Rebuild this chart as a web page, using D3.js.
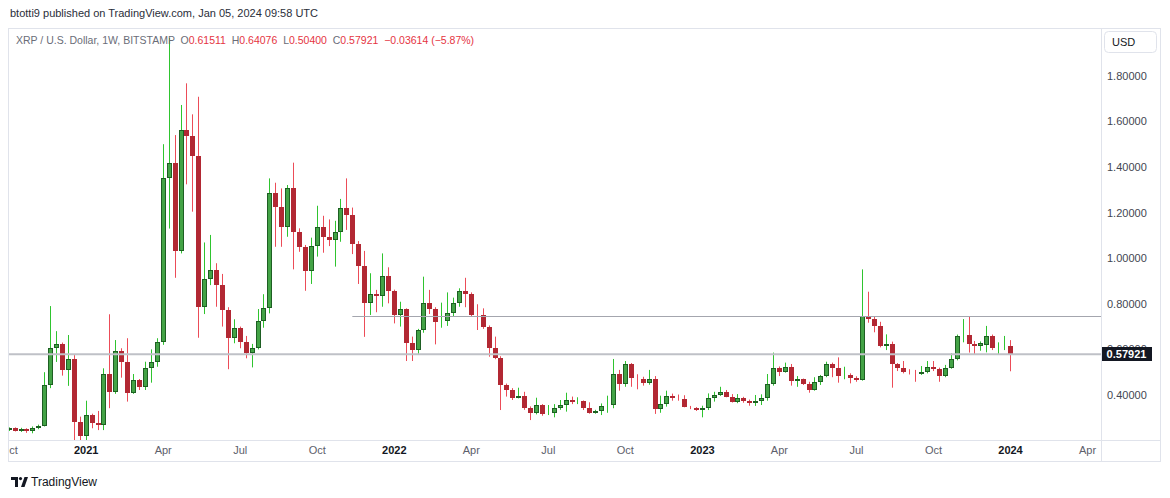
<!DOCTYPE html>
<html>
<head>
<meta charset="utf-8">
<title>XRP / U.S. Dollar, 1W</title>
<script src="https://d3js.org/d3.v7.min.js"></script>
<style>
  body { margin: 0; background: #fff; }
  text { font-family: "Liberation Sans", Arial, sans-serif; }
</style>
</head>
<body>
<svg id="chart" width="1170" height="498"></svg>
<script>
// weekly bars, first bar = week of 2020-10-05, last = week of 2024-01-01
var firstWeek = "2020-10-05", lastWeek = "2024-01-01";

var opens = [
  0.248,0.254,0.243,0.250,0.240,0.254,0.266,0.444,0.605,0.622,
  0.510,0.557,0.280,0.220,0.312,0.276,0.270,0.492,0.414,0.593,
  0.543,0.410,0.466,0.436,0.517,0.546,0.634,1.350,1.416,1.033,
  1.562,1.536,1.448,0.787,0.907,0.948,0.882,0.773,0.649,0.693,
  0.631,0.586,0.605,0.726,0.780,1.287,1.223,1.138,1.306,1.117,
  1.048,0.944,1.053,1.138,1.092,1.080,1.113,1.222,1.190,1.061,
  0.967,0.802,0.842,0.832,0.922,0.858,0.751,0.776,0.627,0.597,
  0.685,0.805,0.777,0.719,0.724,0.761,0.805,0.858,0.842,0.756,
  0.749,0.697,0.608,0.564,0.444,0.422,0.388,0.396,0.342,0.322,
  0.356,0.315,0.322,0.342,0.356,0.378,0.368,0.373,0.342,0.320,
  0.330,0.353,0.357,0.492,0.448,0.535,0.476,0.469,0.454,0.469,
  0.339,0.361,0.397,0.388,0.381,0.349,0.343,0.335,0.344,0.385,
  0.400,0.412,0.393,0.371,0.385,0.375,0.364,0.374,0.385,0.448,
  0.517,0.503,0.521,0.463,0.469,0.450,0.422,0.455,0.483,0.536,
  0.517,0.483,0.487,0.476,0.466,0.746,0.733,0.704,0.616,0.624,
  0.536,0.520,0.502,0.495,0.490,0.502,0.524,0.514,0.483,0.520,
  0.556,0.660,0.662,0.624,0.615,0.620,0.660,0.607,0.612,0.61511
];
var highs = [
  0.258,0.258,0.256,0.254,0.262,0.270,0.500,0.790,0.680,0.630,
  0.663,0.575,0.305,0.375,0.318,0.330,0.517,0.754,0.641,0.605,
  0.649,0.492,0.470,0.546,0.600,0.649,1.500,1.966,1.540,1.672,
  1.767,1.631,1.708,1.069,1.102,0.978,0.931,0.785,0.732,0.700,
  0.659,0.624,0.777,0.842,1.350,1.331,1.306,1.321,1.419,1.131,
  1.058,1.090,1.230,1.186,1.170,1.164,1.260,1.350,1.222,1.075,
  1.032,0.934,0.861,1.021,0.960,0.862,0.809,0.780,0.656,0.690,
  0.919,0.861,0.785,0.805,0.850,0.827,0.868,0.914,0.850,0.798,
  0.780,0.705,0.656,0.570,0.450,0.430,0.432,0.414,0.350,0.388,
  0.360,0.356,0.360,0.378,0.410,0.393,0.390,0.376,0.368,0.335,
  0.363,0.397,0.558,0.510,0.549,0.540,0.491,0.480,0.510,0.483,
  0.397,0.419,0.406,0.402,0.399,0.352,0.347,0.353,0.407,0.414,
  0.436,0.422,0.404,0.404,0.392,0.380,0.400,0.403,0.492,0.586,
  0.525,0.542,0.536,0.483,0.472,0.458,0.478,0.488,0.546,0.542,
  0.565,0.524,0.495,0.482,0.951,0.853,0.743,0.721,0.666,0.634,
  0.540,0.549,0.513,0.510,0.527,0.549,0.549,0.520,0.532,0.583,
  0.665,0.733,0.746,0.637,0.635,0.703,0.665,0.631,0.659,0.64076
];
var lows = [
  0.242,0.240,0.238,0.234,0.232,0.250,0.262,0.430,0.545,0.485,
  0.440,0.200,0.170,0.200,0.254,0.246,0.246,0.342,0.405,0.476,
  0.371,0.405,0.422,0.422,0.454,0.524,0.620,1.130,0.914,1.021,
  1.324,1.204,0.651,0.755,0.882,0.787,0.700,0.513,0.627,0.605,
  0.561,0.521,0.600,0.695,0.758,1.050,1.050,1.094,0.951,1.028,
  0.857,0.887,1.007,1.024,1.053,0.963,1.072,1.124,1.018,0.887,
  0.655,0.751,0.763,0.787,0.802,0.714,0.700,0.549,0.549,0.580,
  0.673,0.755,0.622,0.695,0.703,0.743,0.787,0.785,0.745,0.685,
  0.690,0.568,0.557,0.334,0.393,0.378,0.385,0.335,0.290,0.315,
  0.309,0.312,0.302,0.335,0.327,0.360,0.360,0.334,0.318,0.318,
  0.312,0.322,0.342,0.419,0.436,0.436,0.425,0.441,0.445,0.317,
  0.322,0.349,0.375,0.375,0.346,0.338,0.330,0.302,0.334,0.371,
  0.396,0.390,0.367,0.364,0.366,0.353,0.352,0.356,0.375,0.441,
  0.483,0.498,0.441,0.436,0.444,0.410,0.419,0.444,0.478,0.478,
  0.454,0.469,0.451,0.458,0.463,0.717,0.675,0.609,0.597,0.432,
  0.505,0.495,0.490,0.458,0.488,0.495,0.505,0.458,0.478,0.515,
  0.552,0.631,0.586,0.578,0.594,0.587,0.597,0.578,0.597,0.50400
];
var closes = [
  0.254,0.243,0.250,0.240,0.254,0.266,0.444,0.605,0.622,0.510,
  0.557,0.280,0.220,0.312,0.276,0.270,0.492,0.414,0.593,0.543,
  0.410,0.466,0.436,0.517,0.546,0.634,1.350,1.416,1.033,1.562,
  1.536,1.448,0.787,0.907,0.948,0.882,0.773,0.649,0.693,0.631,
  0.586,0.605,0.726,0.780,1.287,1.223,1.138,1.306,1.117,1.048,
  0.944,1.053,1.138,1.092,1.080,1.113,1.222,1.190,1.061,0.967,
  0.802,0.842,0.832,0.922,0.858,0.751,0.776,0.627,0.597,0.685,
  0.805,0.777,0.719,0.724,0.761,0.805,0.858,0.842,0.751,0.749,
  0.697,0.608,0.564,0.444,0.422,0.388,0.396,0.342,0.322,0.356,
  0.315,0.322,0.342,0.356,0.378,0.368,0.373,0.342,0.320,0.330,
  0.353,0.357,0.492,0.448,0.535,0.476,0.469,0.454,0.469,0.339,
  0.361,0.397,0.388,0.381,0.349,0.343,0.335,0.344,0.385,0.400,
  0.412,0.393,0.371,0.385,0.375,0.364,0.374,0.385,0.448,0.517,
  0.503,0.521,0.463,0.469,0.450,0.422,0.455,0.483,0.536,0.517,
  0.483,0.487,0.476,0.466,0.746,0.733,0.704,0.616,0.624,0.536,
  0.520,0.502,0.495,0.490,0.502,0.524,0.514,0.483,0.520,0.556,
  0.660,0.662,0.624,0.615,0.627,0.660,0.607,0.612,0.61535,0.57921
];

var priceTicks = [0.4, 0.6, 0.8, 1.0, 1.2, 1.4, 1.6, 1.8];
var rayLevel = 0.748, rayStart = "2021-11-15";   // drawn horizontal ray
var headerText = "btotti9 published on TradingView.com, Jan 05, 2024 09:58 UTC";
var symbolText = "XRP / U.S. Dollar, 1W, BITSTAMP";

var svg = d3.select("#chart");

// frame (note: "top" is a window global, so not used as a name)
var plotLeft = 8, plotTop = 28, plotRight = 1101, frameRight = 1161, axisTop = 440, frameBottom = 462;
var barStep = 5.925, lastX = 1010;

var weeks = d3.utcMonday.range(new Date(firstWeek), d3.utcDay.offset(new Date(lastWeek), 1));
var bars = weeks.map(function (d, i) {
  return { date: d, o: opens[i], h: highs[i], l: lows[i], c: closes[i] };
});

var lastDate = weeks[weeks.length - 1];
var wk = 7 * 864e5;
var x = d3.scaleUtc()
  .domain([new Date(+lastDate - (lastX - plotLeft) / barStep * wk), new Date(+lastDate + (plotRight - lastX) / barStep * wk)])
  .range([plotLeft, plotRight]);
var y = d3.scaleLinear().domain([0.2026, 2.0096]).range([axisTop, plotTop]);

svg.append("rect").attr("width", 1170).attr("height", 498).attr("fill", "#fff");

var defs = svg.append("defs");
defs.append("clipPath").attr("id", "plotClip").append("rect")
  .attr("x", plotLeft).attr("y", plotTop).attr("width", plotRight - plotLeft).attr("height", axisTop - plotTop);
defs.append("clipPath").attr("id", "timeClip").append("rect")
  .attr("x", plotLeft).attr("y", axisTop).attr("width", plotRight - plotLeft).attr("height", frameBottom - axisTop);

// header
svg.append("text").attr("x", 10).attr("y", 17).attr("font-size", 11).attr("fill", "#2a2e39").text(headerText);

// candles
var plot = svg.append("g").attr("clip-path", "url(#plotClip)");
var up = { body: "#43a346", edge: "#1e5f23", wick: "#2fc42f" };
var dn = { body: "#b22833", edge: "#b22833", wick: "#ec4c58" };

var candle = plot.selectAll("g.bar").data(bars).enter().append("g").attr("class", "bar");
candle.append("line")
  .attr("x1", function (d) { return Math.round(x(d.date)) + 0.5; })
  .attr("x2", function (d) { return Math.round(x(d.date)) + 0.5; })
  .attr("y1", function (d) { return y(d.h); })
  .attr("y2", function (d) { return y(d.l); })
  .attr("stroke", function (d) { return d.c >= d.o ? up.wick : dn.wick; })
  .attr("stroke-width", 1);
candle.append("rect")
  .attr("x", function (d) { return Math.round(x(d.date)) - 1.5; })
  .attr("width", 4)
  .attr("y", function (d) { return Math.round(y(Math.max(d.o, d.c))) + 0.5; })
  .attr("height", function (d) {
    return Math.max(Math.round(y(Math.min(d.o, d.c))) - Math.round(y(Math.max(d.o, d.c))) - 1, 0);
  })
  .attr("fill", function (d) { return d.c >= d.o ? up.body : dn.body; })
  .attr("stroke", function (d) { return d.c >= d.o ? up.edge : dn.edge; })
  .attr("stroke-width", 1);

// horizontal ray and last price line
var lastClose = closes[closes.length - 1];
plot.append("line")
  .attr("x1", x(new Date(rayStart))).attr("x2", plotRight)
  .attr("y1", Math.round(y(rayLevel)) + 0.5).attr("y2", Math.round(y(rayLevel)) + 0.5)
  .attr("stroke", "#a4a6ae").attr("stroke-width", 1);
plot.append("line")
  .attr("x1", plotLeft).attr("x2", plotRight)
  .attr("y1", y(lastClose)).attr("y2", y(lastClose))
  .attr("stroke", "#bfc1c7").attr("stroke-width", 2);

// legend
var red = "#e5343f", grey = "#6a6d78";
var last = bars[bars.length - 1], prevClose = closes[closes.length - 2];
var chg = last.c - prevClose;
var fmt = d3.format(".5f");
var minus = function (s) { return s.replace("-", "\u2212"); };
var legend = svg.append("text").attr("x", 16).attr("y", 44).attr("font-size", 10.5).attr("xml:space", "preserve");
legend.append("tspan").attr("fill", grey).text(symbolText + "  ");
[["O", last.o], ["H", last.h], ["L", last.l], ["C", last.c]].forEach(function (p) {
  legend.append("tspan").attr("fill", grey).text(p[0]);
  legend.append("tspan").attr("fill", red).text(fmt(p[1]) + "  ");
});
legend.append("tspan").attr("fill", red)
  .text(minus(fmt(chg)) + " (" + minus(d3.format(".2f")(chg / prevClose * 100)) + "%)");

// price axis
var pa = svg.append("g");
pa.selectAll("text.tick").data(priceTicks).enter().append("text")
  .attr("x", 1107).attr("y", function (d) { return y(d) + 4; })
  .attr("font-size", 11).attr("fill", "#434651")
  .text(function (d) { return fmt(d); });
pa.append("rect").attr("x", 1104.5).attr("y", 31.5).attr("width", 52).attr("height", 21).attr("rx", 4)
  .attr("fill", "#fff").attr("stroke", "#e0e3eb");
pa.append("text").attr("x", 1112).attr("y", 46).attr("font-size", 11).attr("fill", "#131722").text("USD");
var ly = Math.round(y(lastClose));
pa.append("rect").attr("x", 1101).attr("y", ly - 7).attr("width", 51).attr("height", 14)
  .attr("fill", "#131722");
pa.append("text").attr("x", 1126.5).attr("y", ly + 4).attr("text-anchor", "middle")
  .attr("font-size", 11).attr("font-weight", "bold").attr("fill", "#fff").text(fmt(lastClose));

// time axis
var tickDates = d3.utcMonday.range(x.domain()[0], x.domain()[1]).filter(function (d) {
  return d.getUTCMonth() % 3 === 0 && d.getUTCDate() <= 7;
});
var xAxis = d3.axisBottom(x).tickValues(tickDates).tickSize(0).tickPadding(0)
  .tickFormat(function (d) { return d.getUTCMonth() === 0 ? d.getUTCFullYear() : d3.utcFormat("%b")(d); });
var ta = svg.append("g").attr("clip-path", "url(#timeClip)")
  .append("g").attr("transform", "translate(0," + (axisTop + 6) + ")").call(xAxis);
ta.select(".domain").remove();
ta.selectAll("text")
  .attr("font-family", "Liberation Sans, Arial, sans-serif")
  .attr("font-size", 11)
  .attr("fill", function (d) { return d.getUTCMonth() === 0 ? "#131722" : "#5d606b"; })
  .attr("font-weight", function (d) { return d.getUTCMonth() === 0 ? "bold" : "normal"; });

// frame lines
var border = "#e0e3eb";
var fr = svg.append("g").attr("stroke", border).attr("fill", "none").attr("stroke-width", 1);
fr.append("rect").attr("x", plotLeft + 0.5).attr("y", plotTop + 0.5)
  .attr("width", frameRight - plotLeft - 1).attr("height", frameBottom - plotTop - 1);
fr.append("line").attr("x1", plotRight + 0.5).attr("x2", plotRight + 0.5).attr("y1", plotTop).attr("y2", frameBottom);
fr.append("line").attr("x1", plotLeft).attr("x2", frameRight).attr("y1", axisTop + 0.5).attr("y2", axisTop + 0.5);

// TradingView mark
var logo = svg.append("g").attr("fill", "#131722");
logo.append("path").attr("d", "M11,477 H18 V487 H15 V480 H11 Z");
logo.append("circle").attr("cx", 20.5).attr("cy", 478.6).attr("r", 1.6);
logo.append("path").attr("d", "M24.5,477 H28 L24.5,487 H21 Z");
svg.append("text").attr("x", 31).attr("y", 486).attr("font-size", 12).attr("fill", "#131722").text("TradingView");
</script>
</body>
</html>
